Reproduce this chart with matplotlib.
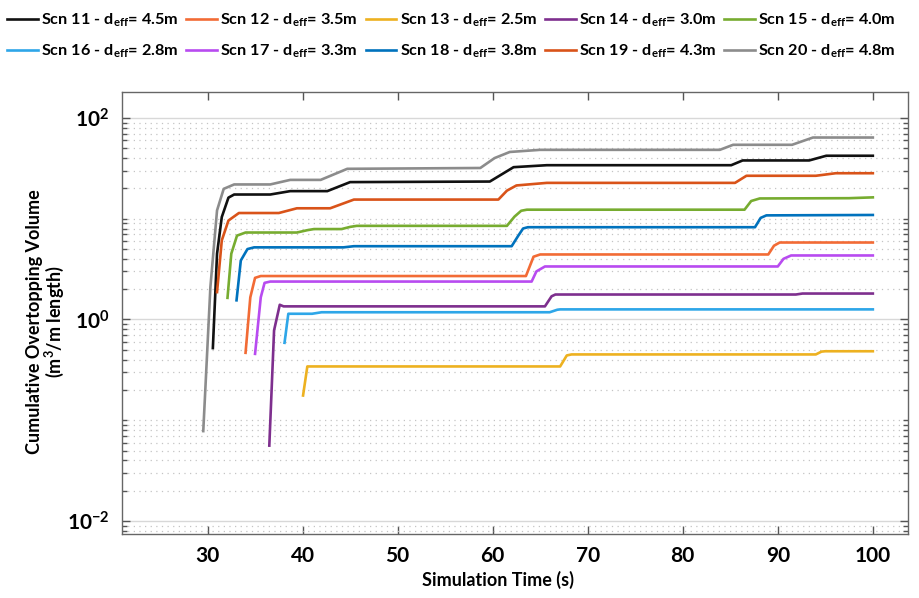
import matplotlib
matplotlib.use("Agg")
import matplotlib.pyplot as plt
from matplotlib.ticker import FixedLocator, LogFormatterSciNotation, NullFormatter

plt.rcParams['font.family'] = ['Lato', 'DejaVu Sans']
plt.rcParams['font.weight'] = 'bold'
plt.rcParams['mathtext.fontset'] = 'custom'
plt.rcParams['mathtext.rm'] = 'Lato:bold'
plt.rcParams['mathtext.it'] = 'Lato:bold'
plt.rcParams['mathtext.bf'] = 'Lato:bold'
plt.rcParams['mathtext.default'] = 'regular'

labels = ["Scn 11 - d$_{eff}$= 4.5m", "Scn 12 - d$_{eff}$= 3.5m", "Scn 13 - d$_{eff}$= 2.5m",
          "Scn 14 - d$_{eff}$= 3.0m", "Scn 15 - d$_{eff}$= 4.0m", "Scn 16 - d$_{eff}$= 2.8m",
          "Scn 17 - d$_{eff}$= 3.3m", "Scn 18 - d$_{eff}$= 3.8m", "Scn 19 - d$_{eff}$= 4.3m",
          "Scn 20 - d$_{eff}$= 4.8m"]
colors = ['#111111', '#F26B35', '#EDB120', '#7E2F8E', '#77AC30',
          '#2EA6E8', '#B84BF0', '#0072BD', '#D95319', '#8C8C8C']

t11 = [30.56, 31.0, 31.5, 32.2, 32.8, 36.6, 38.7, 42.6, 45.0, 59.7, 62.2, 65.7, 85.1, 86.3, 93.3, 95.1, 100]
v11 = [0.52, 4.5, 10.4, 16.2, 17.4, 17.4, 18.8, 18.8, 23.1, 23.4, 32.5, 34.0, 34.0, 37.9, 37.9, 42.2, 42.2]
t12 = [34.0, 34.5, 35.0, 35.6, 63.5, 64.3, 65.0, 89.0, 89.6, 90.2, 100]
v12 = [0.467, 1.66, 2.59, 2.70, 2.70, 4.2, 4.42, 4.42, 5.4, 5.81, 5.81]
t13 = [40.05, 40.5, 41.0, 67.1, 67.8, 68.3, 94.0, 94.6, 95.0, 100]
v13 = [0.176, 0.342, 0.342, 0.342, 0.44, 0.45, 0.45, 0.48, 0.484, 0.484]
t14 = [36.5, 37.0, 37.6, 38.0, 65.5, 66.2, 66.6, 91.9, 92.6, 100]
v14 = [0.056, 0.78, 1.40, 1.35, 1.35, 1.70, 1.77, 1.77, 1.81, 1.81]
t15 = [32.1, 32.5, 33.1, 34.0, 39.4, 40.5, 41.2, 44.1, 45.0, 45.7, 61.5, 62.3, 63.0, 63.6, 86.5, 87.2, 88.1, 97.5, 100]
v15 = [1.64, 4.5, 6.8, 7.3, 7.3, 7.7, 7.9, 7.9, 8.3, 8.5, 8.5, 10.5, 12.0, 12.3, 12.3, 15.0, 15.9, 16.0, 16.3]
t16 = [38.1, 38.5, 41.0, 42.0, 66.0, 66.8, 67.1, 100]
v16 = [0.587, 1.14, 1.14, 1.18, 1.18, 1.25, 1.26, 1.26]
t17 = [35.0, 35.6, 36.0, 36.6, 64.1, 64.6, 65.5, 90.0, 90.6, 91.4, 100]
v17 = [0.456, 1.66, 2.31, 2.38, 2.38, 3.0, 3.36, 3.36, 4.0, 4.32, 4.32]
t18 = [33.05, 33.5, 34.2, 34.9, 44.3, 45.4, 62.0, 62.7, 63.2, 63.7, 87.6, 88.2, 88.8, 100]
v18 = [1.55, 3.85, 5.0, 5.2, 5.2, 5.34, 5.34, 6.8, 8.0, 8.24, 8.24, 10.2, 10.8, 10.9]
t19 = [31.0, 31.5, 32.2, 33.3, 37.5, 39.4, 42.9, 45.4, 60.6, 61.5, 62.5, 65.7, 85.5, 86.7, 94.0, 96.1, 100]
v19 = [1.87, 6.1, 9.6, 11.4, 11.4, 12.7, 12.7, 15.5, 15.5, 19.0, 21.4, 22.7, 22.7, 26.7, 26.7, 28.3, 28.3]
t20 = [29.55, 30.3, 31.0, 31.7, 32.8, 36.6, 38.7, 41.9, 44.7, 58.7, 60.2, 61.8, 65.0, 83.9, 85.3, 91.5, 93.7, 100]
v20 = [0.078, 2.1, 12.1, 19.8, 21.9, 21.9, 24.3, 24.3, 31.3, 31.9, 40.0, 46.0, 48.3, 48.3, 54.2, 54.2, 64.0, 64.0]

series_t = [t11, t12, t13, t14, t15, t16, t17, t18, t19, t20]
series_v = [v11, v12, v13, v14, v15, v16, v17, v18, v19, v20]

xticks = [30, 40, 50, 60, 70, 80, 90, 100]
yticks = [1e-2, 1e0, 1e2]

fig = plt.figure(figsize=(9.19, 5.98), dpi=100)
ax = fig.add_axes([122/919, 1-534/598, (908-122)/919, (534-92)/598])

handles = []
for t, v, c, lab in zip(series_t, series_v, colors, labels):
    h, = ax.plot(t, v, color=c, lw=1.9, label=lab, solid_joinstyle='round')
    handles.append(h)

ax.set_yscale('log')
ax.set_xlim(21.0, 103.7)
ax.set_ylim(10**-2.129, 10**2.258)

ax.set_xticks(xticks)
ax.yaxis.set_major_locator(FixedLocator(yticks))
minors = []
for e in range(-3, 3):
    for m in range(1, 10):
        val = m * 10.0**e
        if val not in yticks:
            minors.append(val)
ax.yaxis.set_minor_locator(FixedLocator(minors))
ax.yaxis.set_major_formatter(LogFormatterSciNotation())
ax.yaxis.set_minor_formatter(NullFormatter())

ax.grid(True, which='major', axis='y', color='#d8d8d8', lw=1.0, ls='-')
ax.grid(True, which='minor', axis='y', color='#c4c4c4', lw=0.9, ls=(0, (1, 3.5)))
ax.set_axisbelow(True)

ax.tick_params(axis='both', which='major', direction='in', length=6, width=1,
               color='#555555', labelsize=15, top=True, right=True, pad=9)
ax.tick_params(axis='y', which='minor', direction='in', length=3.5, width=1,
               color='#555555', right=True, left=True)
ax.tick_params(axis='x', which='minor', bottom=False, top=False)
for lab in ax.get_xticklabels() + ax.get_yticklabels():
    lab.set_fontweight('bold')
for s in ax.spines.values():
    s.set_color('#666666')
    s.set_linewidth(1.0)

ax.set_xlabel('Simulation Time (s)', fontsize=13, fontweight='bold')
ax.set_ylabel('Cumulative Overtopping Volume\n(m$^3$/m length)', fontsize=13,
              fontweight='bold', linespacing=1.0)
ax.xaxis.set_label_coords((498 - 122) / 786, -(580 - 534) / 442)
ax.yaxis.set_label_coords(-(122 - 46) / 786, (534 - 322) / 442)
ax.xaxis.label.set_verticalalignment('center')
ax.yaxis.label.set_verticalalignment('center')

order = [0, 5, 1, 6, 2, 7, 3, 8, 4, 9]
fig.legend([handles[i] for i in order], [labels[i] for i in order],
           loc='upper left', bbox_to_anchor=(2/919, 1 - 7/598), ncol=5, frameon=False,
           handlelength=1.9, handletextpad=0.2, columnspacing=0.48,
           borderaxespad=0.0, borderpad=0.3, labelspacing=0.8,
           prop={'weight': 'bold', 'size': 11.7})

fig.savefig('out.png', dpi=100)
